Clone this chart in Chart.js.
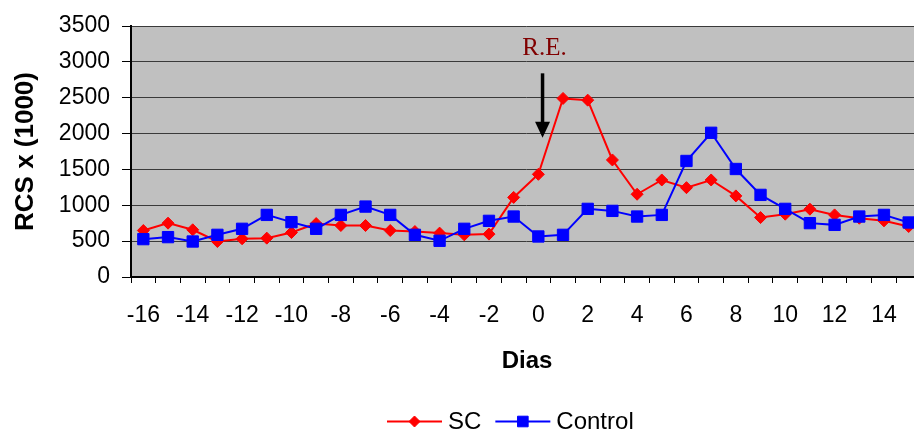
<!DOCTYPE html>
<html><head><meta charset="utf-8">
<script src="https://cdn.jsdelivr.net/npm/chart.js@4/dist/chart.umd.min.js"></script>
<style>html,body{margin:0;padding:0;overflow:hidden;background:#fff}canvas{display:block}</style>
</head><body>
<canvas id="c" width="930" height="430"></canvas>
<script>
// ---- data ----
const days = [-16,-15,-14,-13,-12,-11,-10,-9,-8,-7,-6,-5,-4,-3,-2,-1,0,1,2,3,4,5,6,7,8,9,10,11,12,13,14,15];
const scValues = [648,751,658,495,533,542,620,745,718,718,648,634,612,588,598,1110,1432,2490,2466,1632,1154,1353,1246,1353,1131,829,876,946,866,820,783,704];
const controlValues = [528,556,495,588,672,866,765,672,866,982,866,588,505,672,783,843,565,588,950,922,843,866,1618,2011,1506,1145,950,751,727,843,866,760];
const xTickLabels = [-16,-14,-12,-10,-8,-6,-4,-2,0,2,4,6,8,10,12,14];
const yMin = 0, yMax = 3500, yStep = 500;
const seriesNames = ['SC','Control'];
const xTitle = 'Dias';
const yTitle = 'RCS x (1000)';
const reText = 'R.E.';
const reDay = 0;
const reLabelValue = 3190;
const reArrowFrom = 2840;
const reArrowTo = 1940;

const FONT = "'Liberation Sans', Arial, sans-serif";
Chart.defaults.font.family = FONT;
Chart.defaults.color = '#000';

const plotBg = {
  id: 'plotBg',
  beforeDraw(chart) {
    const { ctx, chartArea: a } = chart;
    ctx.save();
    ctx.fillStyle = '#C0C0C0';
    ctx.fillRect(a.left, a.top, a.right - a.left, a.bottom - a.top);
    ctx.restore();
  }
};

function marker(ctx, style, x, y, r, color) {
  ctx.save();
  ctx.fillStyle = color; ctx.strokeStyle = color; ctx.lineWidth = 1;
  ctx.beginPath();
  if (style === 'rectRot') {
    ctx.moveTo(x, y - r); ctx.lineTo(x + r, y); ctx.lineTo(x, y + r); ctx.lineTo(x - r, y);
  } else {
    const s = r * Math.SQRT1_2;
    ctx.rect(x - s, y - s, 2 * s, 2 * s);
  }
  ctx.closePath(); ctx.fill(); ctx.stroke();
  ctx.restore();
}

const extras = {
  id: 'extras',
  afterDraw(chart) {
    const { ctx, scales: { x, y }, chartArea: a } = chart;
    ctx.save();
    // axis titles
    ctx.fillStyle = '#000';
    ctx.textAlign = 'center'; ctx.textBaseline = 'middle';
    ctx.font = `bold 26px ${FONT}`;
    ctx.save();
    ctx.translate(26, (a.top + a.bottom) / 2);
    ctx.rotate(-Math.PI / 2);
    ctx.fillText(yTitle, 0, 0);
    ctx.restore();
    ctx.font = `bold 24px ${FONT}`;
    ctx.fillText(xTitle, (a.left + a.right) / 2 + 1, 361);

    // R.E. annotation
    const idx = days.indexOf(reDay);
    const step = x.getPixelForValue(idx + 1) - x.getPixelForValue(idx);
    const px = x.getPixelForValue(idx) + 0.17 * step;
    ctx.fillStyle = '#800000';
    ctx.font = `25px 'Liberation Serif', 'Times New Roman', serif`;
    ctx.fillText(reText, px + 2, y.getPixelForValue(reLabelValue));
    const yTop = y.getPixelForValue(reArrowFrom);
    const yTip = y.getPixelForValue(reArrowTo);
    const headH = 16, headW = 15;
    ctx.strokeStyle = '#000'; ctx.fillStyle = '#000'; ctx.lineWidth = 3.5;
    ctx.beginPath(); ctx.moveTo(px, yTop); ctx.lineTo(px, yTip - headH + 1); ctx.stroke();
    ctx.beginPath(); ctx.moveTo(px - headW / 2, yTip - headH); ctx.lineTo(px + headW / 2, yTip - headH); ctx.lineTo(px, yTip); ctx.closePath(); ctx.fill();

    // legend
    const items = [
      { label: seriesNames[0], color: '#FF0000', style: 'rectRot', r: 5.5 },
      { label: seriesNames[1], color: '#0000FF', style: 'rect', r: 7.5 }
    ];
    ctx.font = `24px ${FONT}`;
    ctx.textAlign = 'left';
    const ly = 421.5;
    let lx = 387;
    for (const it of items) {
      ctx.strokeStyle = it.color; ctx.lineWidth = 2;
      ctx.beginPath(); ctx.moveTo(lx, ly); ctx.lineTo(lx + 55, ly); ctx.stroke();
      marker(ctx, it.style, lx + 27.5, ly, it.r, it.color);
      ctx.fillStyle = '#000';
      ctx.fillText(it.label, lx + 61, ly + 1);
      lx += 61 + ctx.measureText(it.label).width + 14;
    }
    ctx.restore();
  }
};

new Chart(document.getElementById('c'), {
  type: 'line',
  data: {
    labels: days.map(String),
    datasets: [
      {
        label: seriesNames[0], data: scValues, order: 1,
        borderColor: '#FF0000', backgroundColor: '#FF0000', borderWidth: 2,
        pointStyle: 'rectRot', pointRadius: 6, pointBorderWidth: 1, tension: 0
      },
      {
        label: seriesNames[1], data: controlValues, order: 0,
        borderColor: '#0000FF', backgroundColor: '#0000FF', borderWidth: 2,
        pointStyle: 'rect', pointRadius: 8, pointBorderWidth: 1, tension: 0
      }
    ]
  },
  options: {
    responsive: false,
    animation: false,
    layout: { padding: { top: 26, right: 5, left: 0, bottom: 0 } },
    plugins: { legend: { display: false }, tooltip: { enabled: false } },
    scales: {
      x: {
        type: 'category',
        offset: true,
        grid: { display: true, drawOnChartArea: false, drawTicks: true, tickLength: 6, offset: true, color: '#000', tickColor: '#000' },
        border: { display: true, color: '#000', width: 2 },
        ticks: {
          autoSkip: false, maxRotation: 0, minRotation: 0, padding: 19,
          font: { size: 23 }, color: '#000',
          callback(value, index) { const d = days[index]; return xTickLabels.includes(d) ? String(d) : ''; }
        },
        afterFit(s) { s.height = 153; }
      },
      y: {
        min: yMin, max: yMax,
        grid: { color: '#3a3a3a', tickColor: '#000', tickLength: 9, lineWidth: 1 },
        border: { display: true, color: '#000', width: 2 },
        ticks: { stepSize: yStep, padding: 12, font: { size: 23 }, color: '#000', callback(value) { return String(value); } },
        afterFit(s) { s.width = 131; }
      }
    }
  },
  plugins: [plotBg, extras]
});
</script>
</body></html>
